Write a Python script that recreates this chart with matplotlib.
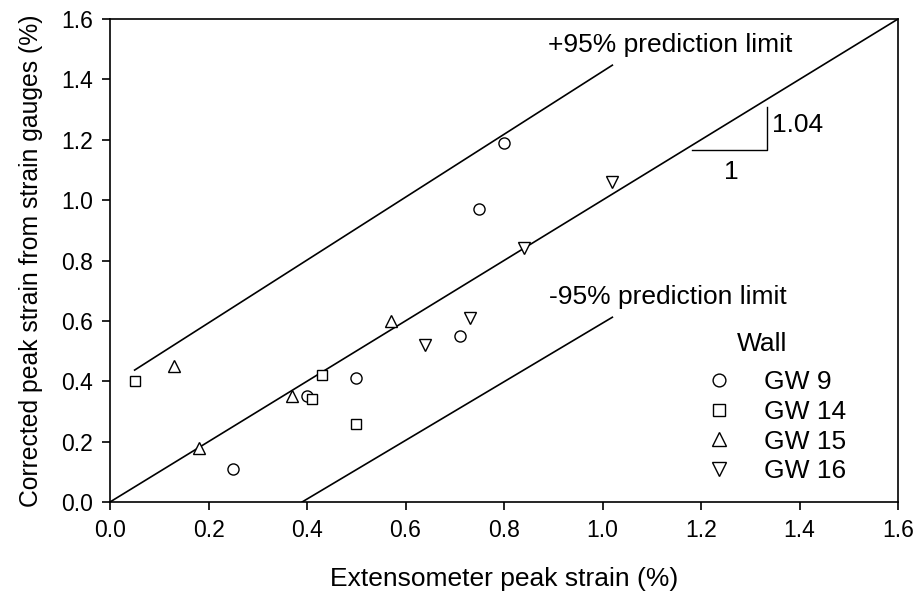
import matplotlib
matplotlib.use("Agg")
import matplotlib.pyplot as plt

plt.rcParams["font.family"] = ["Liberation Sans", "DejaVu Sans"]

# measured peak strains (%) per wall: extensometer vs corrected strain gauges
gw9_x = [0.25, 0.40, 0.50, 0.71, 0.75, 0.80]
gw9_y = [0.11, 0.35, 0.41, 0.55, 0.97, 1.19]
gw14_x = [0.05, 0.41, 0.43, 0.50]
gw14_y = [0.40, 0.34, 0.42, 0.26]
gw15_x = [0.13, 0.18, 0.37, 0.57]
gw15_y = [0.45, 0.18, 0.35, 0.60]
gw16_x = [0.64, 0.73, 0.84, 1.02]
gw16_y = [0.52, 0.61, 0.84, 1.06]

# regression line and 95% prediction limits (end points)
fit_x = [0.0, 1.6]
fit_y = [0.0, 1.6]
upper_x = [0.05, 1.02]
upper_y = [0.437, 1.447]
lower_x = [0.39, 1.02]
lower_y = [0.0, 0.612]

# slope marker
slope_x = [1.181, 1.333, 1.333]
slope_y = [1.166, 1.166, 1.310]

fig = plt.figure(figsize=(9.19, 5.96), dpi=100)
ax = fig.add_axes([110 / 919, 1 - 502 / 596, 788 / 919, 483 / 596])

line_kw = dict(color="black", lw=1.2)
ax.plot(fit_x, fit_y, **line_kw)
ax.plot(upper_x, upper_y, **line_kw)
ax.plot(lower_x, lower_y, **line_kw)
ax.plot(slope_x, slope_y, color="black", lw=1.0)

mk = dict(linestyle="none", mfc="white", mec="black", mew=1.0, clip_on=False)
ax.plot(gw9_x, gw9_y, marker="o", ms=8, label="GW 9", **mk)
ax.plot(gw14_x, gw14_y, marker="s", ms=7.5, label="GW 14", **mk)
ax.plot(gw15_x, gw15_y, marker="^", ms=8.5, label="GW 15", **mk)
ax.plot(gw16_x, gw16_y, marker="v", ms=8.5, label="GW 16", **mk)

fs = 19
ax.text(1.137, 1.514, "+95% prediction limit", fontsize=fs, ha="center", va="center")
ax.text(1.133, 0.679, "-95% prediction limit", fontsize=fs, ha="center", va="center")
ax.text(1.345, 1.249, "1.04", fontsize=fs, ha="left", va="center")
ax.text(1.262, 1.094, "1", fontsize=fs, ha="center", va="center")

ax.text(1.2725, 0.525, "Wall", fontsize=fs, ha="left", va="center")
leg = ax.legend(loc="upper left", bbox_to_anchor=(0.739, 0.273), frameon=False,
                fontsize=fs, handlelength=2.0, handletextpad=0.7,
                labelspacing=0.217, borderpad=0, borderaxespad=0, markerscale=1.15)

ax.set_xlim(0, 1.6)
ax.set_ylim(0, 1.6)
ax.set_xticks([0.0, 0.2, 0.4, 0.6, 0.8, 1.0, 1.2, 1.4, 1.6])
ax.set_yticks([0.0, 0.2, 0.4, 0.6, 0.8, 1.0, 1.2, 1.4, 1.6])
ax.xaxis.set_major_formatter(plt.FormatStrFormatter("%.1f"))
ax.yaxis.set_major_formatter(plt.FormatStrFormatter("%.1f"))
ax.tick_params(direction="out", length=5.5, width=1.2, labelsize=16.5, pad=7,
               top=False, right=False)
for s in ax.spines.values():
    s.set_linewidth(1.2)

ax.set_xlabel("Extensometer peak strain (%)", fontsize=fs, labelpad=18)
ax.set_ylabel("Corrected peak strain from strain gauges (%)", fontsize=17.8, labelpad=13)

fig.savefig("out.png", dpi=100)
